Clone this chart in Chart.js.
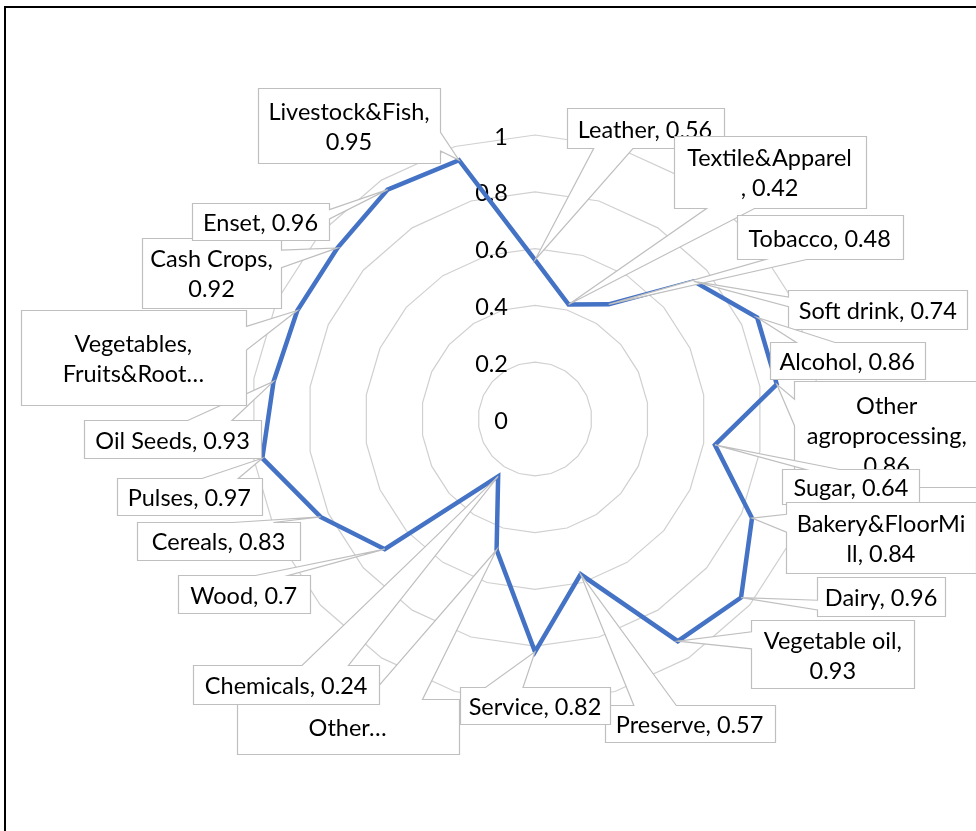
<!DOCTYPE html>
<html>
<head>
<meta charset="utf-8">
<script src="https://cdn.jsdelivr.net/npm/chart.js@4.4.0/dist/chart.umd.min.js"></script>
<style>
  html, body { margin: 0; padding: 0; background: #fff; }
</style>
</head>
<body>
<canvas id="radarChart" width="976" height="831"></canvas>
<script>
  // Categories clockwise from the top.
  const categories = [
    'Leather', 'Textile&Apparel', 'Tobacco', 'Soft drink', 'Alcohol',
    'Other agroprocessing', 'Sugar', 'Bakery&FloorMill', 'Dairy', 'Vegetable oil',
    'Preserve', 'Service', 'Other…', 'Chemicals', 'Wood', 'Cereals', 'Pulses',
    'Oil Seeds', 'Vegetables, Fruits&Root…', 'Cash Crops', 'Enset', 'Livestock&Fish'
  ];
  const values = [
    0.56, 0.42, 0.48, 0.74, 0.86,
    0.86, 0.64, 0.84, 0.96, 0.93,
    0.57, 0.82, 0.48, 0.24, 0.7, 0.83, 0.97,
    0.93, 0.92, 0.92, 0.96, 0.95
  ];
  const tickValues = [0, 0.2, 0.4, 0.6, 0.8, 1];
  const tickLabels = ['0', '0.2', '0.4', '0.6', '0.8', '1'];

  // Data label text, wrapped the way the boxes show it.
  const labelLines = [
    ['Leather, 0.56'], ['Textile&Apparel', ', 0.42'], ['Tobacco, 0.48'], ['Soft drink, 0.74'],
    ['Alcohol, 0.86'], ['Other', 'agroprocessing,', '0.86'], ['Sugar, 0.64'],
    ['Bakery&FloorMi', 'll, 0.84'], ['Dairy, 0.96'], ['Vegetable oil,', '0.93'],
    ['Preserve, 0.57'], ['Service, 0.82'], ['Other…'], ['Chemicals, 0.24'], ['Wood, 0.7'],
    ['Cereals, 0.83'], ['Pulses, 0.97'], ['Oil Seeds, 0.93'], ['Vegetables,', 'Fruits&Root…'],
    ['Cash Crops,', '0.92'], ['Enset, 0.96'], ['Livestock&Fish,', '0.95']
  ];
  // Callout box: centre offset from its point, then width and height.
  const labelBoxes = [
    [110, -132, 157, 40], [201, -133, 192, 72], [211, -67, 166, 44], [184, 28, 179, 39],
    [90, 43, 155, 37], [110, 50, 186, 106], [136, 42, 137, 35], [129, 19, 190, 71],
    [140, -1, 128, 39], [155, 13, 163, 68], [109, 149, 170, 37], [0, 54, 150, 37],
    [-149, 177, 222, 55], [-212, 208, 186, 39], [-141, 45, 132, 38], [-102, 24, 163, 38],
    [-73, 38, 145, 37], [-101, 58, 177, 38], [-164, 47, 225, 95], [-126, 25, 139, 70],
    [-127, 32, 137, 37], [-110, -35, 182, 75]
  ];

  const fontFamily = 'Lato, "Open Sans", sans-serif';
  const labelFont = '23.5px ' + fontFamily;
  const lineHeight = 30;

  // Outer frame of the chart object.
  const framePlugin = {
    id: 'frame',
    beforeDraw(chart) {
      const ctx = chart.ctx;
      ctx.save();
      ctx.fillStyle = '#fff';
      ctx.fillRect(0, 0, chart.width, chart.height);
      ctx.strokeStyle = '#000';
      ctx.lineWidth = 2;
      ctx.strokeRect(5, 7, chart.width + 50, chart.height + 50);
      ctx.restore();
    }
  };

  // Axis numbers sit left of the vertical axis.
  const tickPlugin = {
    id: 'tickText',
    beforeDatasetsDraw(chart) {
      const scale = chart.scales.r;
      const ctx = chart.ctx;
      ctx.save();
      ctx.font = labelFont;
      ctx.fillStyle = '#000';
      ctx.textAlign = 'right';
      ctx.textBaseline = 'middle';
      tickValues.forEach((v, i) => {
        const y = scale.yCenter - scale.getDistanceFromCenterForValue(v);
        ctx.fillText(tickLabels[i], scale.xCenter - 27, y + 2);
      });
      ctx.restore();
    }
  };

  // Excel-like wedge callout.
  function calloutPath(ctx, l, t, w, h, tx, ty) {
    const r = l + w, b = t + h;
    const dxPos = tx - (l + w / 2), dyPos = ty - (t + h / 2);
    const dz = Math.abs(dyPos) - Math.abs(dxPos * h / w);
    const x1 = l + w * (dxPos > 0 ? 7 : 2) / 12, x2 = l + w * (dxPos > 0 ? 10 : 5) / 12;
    const y1 = t + h * (dyPos > 0 ? 7 : 2) / 12, y2 = t + h * (dyPos > 0 ? 10 : 5) / 12;
    ctx.beginPath();
    ctx.moveTo(l, t);
    if (dz > 0 && dyPos < 0) { ctx.lineTo(x1, t); ctx.lineTo(tx, ty); ctx.lineTo(x2, t); }
    ctx.lineTo(r, t);
    if (dz <= 0 && dxPos > 0) { ctx.lineTo(r, y1); ctx.lineTo(tx, ty); ctx.lineTo(r, y2); }
    ctx.lineTo(r, b);
    if (dz > 0 && dyPos > 0) { ctx.lineTo(x2, b); ctx.lineTo(tx, ty); ctx.lineTo(x1, b); }
    ctx.lineTo(l, b);
    if (dz <= 0 && dxPos < 0) { ctx.lineTo(l, y2); ctx.lineTo(tx, ty); ctx.lineTo(l, y1); }
    ctx.closePath();
  }

  const calloutPlugin = {
    id: 'callouts',
    afterDatasetsDraw(chart) {
      const ctx = chart.ctx;
      const meta = chart.getDatasetMeta(0);
      ctx.save();
      ctx.font = labelFont;
      ctx.textAlign = 'center';
      ctx.textBaseline = 'middle';
      meta.data.forEach((pt, i) => {
        const [dx, dy, w, h] = labelBoxes[i];
        const cx = pt.x + dx, cy = pt.y + dy;
        const l = Math.round(cx - w / 2) + 0.5, t = Math.round(cy - h / 2) + 0.5;
        calloutPath(ctx, l, t, w, h, pt.x, pt.y);
        ctx.fillStyle = '#fff';
        ctx.fill();
        ctx.strokeStyle = '#bfbfbf';
        ctx.lineWidth = 1.2;
        ctx.stroke();

        const lines = labelLines[i];
        ctx.fillStyle = '#000';
        lines.forEach((txt, j) => {
          const y = cy + 2 + (j - (lines.length - 1) / 2) * lineHeight;
          ctx.fillText(txt, cx, y);
        });
      });
      ctx.restore();
    }
  };

  new Chart(document.getElementById('radarChart'), {
    type: 'radar',
    data: {
      labels: categories,
      datasets: [{
        data: values,
        borderColor: '#4472C4',
        borderWidth: 4.5,
        pointRadius: 0,
        pointHoverRadius: 0,
        fill: false,
        tension: 0
      }]
    },
    options: {
      responsive: false,
      animation: false,
      devicePixelRatio: 1,
      layout: { padding: { left: 251, right: 157, top: 135, bottom: 128 } },
      plugins: {
        legend: { display: false },
        tooltip: { enabled: false }
      },
      scales: {
        r: {
          min: 0,
          max: 1,
          ticks: { display: false, stepSize: 0.2 },
          grid: { color: '#d0d0d0', lineWidth: 1.2 },
          angleLines: { display: false },
          pointLabels: { display: false }
        }
      }
    },
    plugins: [framePlugin, tickPlugin, calloutPlugin]
  });
</script>
</body>
</html>
